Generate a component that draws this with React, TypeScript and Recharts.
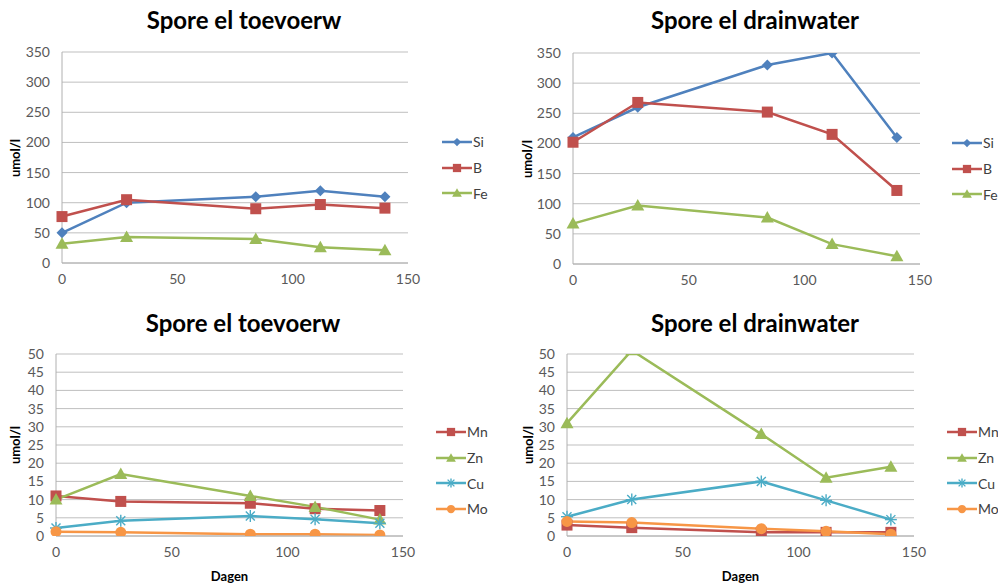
import React from "react"
import { LineChart, Line, XAxis, YAxis, CartesianGrid } from "recharts"

const days = [0, 28, 84, 112, 140]

// top row, macro elements (umol/l)
const toevoerSi = [50, 100, 110, 120, 110]
const toevoerB = [77, 105, 90, 97, 91]
const toevoerFe = [32, 43, 40, 26, 21]
const drainSi = [210, 260, 330, 350, 210]
const drainB = [202, 268, 252, 215, 122]
const drainFe = [67, 97, 77, 33, 13]

// bottom row, trace elements (umol/l)
const toevoerMn = [11, 9.5, 9, 7.5, 7]
const toevoerZn = [10, 17, 11, 8, 4.5]
const toevoerCu = [2.2, 4.2, 5.5, 4.6, 3.5]
const toevoerMo = [1.2, 1.0, 0.5, 0.5, 0.3]
const drainMn = [3, 2.3, 1, 1, 1]
const drainZn = [31, 51, 28, 16, 19]
const drainCu = [5.3, 10, 15, 9.8, 4.5]
const drainMo = [4, 3.7, 2, 1.3, 0.5]

const xTicks = [0, 50, 100, 150]
const yTicksTop = [0, 50, 100, 150, 200, 250, 300, 350]
const yTicksBottom = [0, 5, 10, 15, 20, 25, 30, 35, 40, 45, 50]

const FONT = "Lato, 'Open Sans', sans-serif"
const BLUE = "#4F81BD"
const RED = "#C0504D"
const GREEN = "#9BBB59"
const TEAL = "#4BACC6"
const ORANGE = "#F79646"

type Shape = "diamond" | "square" | "triangle" | "star" | "circle"
type Series = { name: string; color: string; shape: Shape; values: number[] }

function Marker({ cx, cy, shape, color, k = 1 }: { cx: number; cy: number; shape: Shape; color: string; k?: number }) {
  if (cx == null || cy == null) return null
  const r = 5.5 * k
  switch (shape) {
    case "diamond":
      return <path d={`M${cx},${cy - r}L${cx + r},${cy}L${cx},${cy + r}L${cx - r},${cy}Z`} fill={color} />
    case "square":
      return <rect x={cx - r} y={cy - r} width={2 * r} height={2 * r} fill={color} />
    case "triangle":
      return <path d={`M${cx},${cy - 6.5 * k}L${cx + 6.5 * k},${cy + 5 * k}L${cx - 6.5 * k},${cy + 5 * k}Z`} fill={color} />
    case "circle":
      return <circle cx={cx} cy={cy} r={r} fill={color} />
    case "star":
      return (
        <g stroke={color} strokeWidth={1.4}>
          <line x1={cx - 6 * k} y1={cy} x2={cx + 6 * k} y2={cy} />
          <line x1={cx} y1={cy - 6 * k} x2={cx} y2={cy + 6 * k} />
          <line x1={cx - 4.5 * k} y1={cy - 4.5 * k} x2={cx + 4.5 * k} y2={cy + 4.5 * k} />
          <line x1={cx - 4.5 * k} y1={cy + 4.5 * k} x2={cx + 4.5 * k} y2={cy - 4.5 * k} />
        </g>
      )
  }
  return null
}

type PanelProps = {
  left: number
  top: number
  width: number
  height: number
  plot: [number, number, number, number] // x1, x2, y1, y2 in page px
  title: string
  titleX: number
  titleY: number
  series: Series[]
  yMax: number
  yTicks: number[]
  legendLeft: number
  legendTop: number
  yLabelX: number
  showDagen?: boolean
}

function Panel(p: PanelProps) {
  const yAxisW = 40
  const xAxisH = 25
  const [x1, x2, y1, y2] = p.plot
  const margin = {
    left: x1 - p.left - yAxisW,
    right: p.left + p.width - x2,
    top: y1 - p.top,
    bottom: p.top + p.height - y2 - xAxisH,
  }
  const rows = days.map((d, i) => {
    const r: Record<string, number> = { day: d }
    p.series.forEach((s) => (r[s.name] = s.values[i]))
    return r
  })
  const tick = { fontSize: 14, fill: "#595959", fontFamily: FONT }

  return (
    <div style={{ position: "absolute", left: p.left, top: p.top, width: p.width, height: p.height }}>
      <LineChart width={p.width} height={p.height} data={rows} margin={margin} style={{ position: "absolute", left: 0, top: 0 }}>
        <CartesianGrid vertical={false} stroke="#BFBFBF" />
        <XAxis
          type="number"
          dataKey="day"
          domain={[0, 150]}
          ticks={xTicks}
          height={xAxisH}
          tickLine={false}
          stroke="#B0B0B0"
          tick={tick}
          tickMargin={5}
        />
        <YAxis
          type="number"
          domain={[0, p.yMax]}
          ticks={p.yTicks}
          allowDataOverflow
          width={yAxisW}
          tickLine={false}
          stroke="#B0B0B0"
          tick={tick}
          tickMargin={6}
          interval={0}
        />
        {p.series.map((s) => (
          <Line
            key={s.name}
            type="linear"
            dataKey={s.name}
            stroke={s.color}
            strokeWidth={2.5}
            isAnimationActive={false}
            dot={(d: any) => <Marker key={`${s.name}-${d.index}`} cx={d.cx} cy={d.cy} shape={s.shape} color={s.color} />}
            activeDot={false}
          />
        ))}
      </LineChart>
      <div
        style={{
          position: "absolute",
          left: p.titleX - p.left - 150,
          top: p.titleY - p.top - 15,
          width: 300,
          textAlign: "center",
          fontFamily: FONT,
          fontWeight: 700,
          fontSize: 24,
          lineHeight: "30px",
          color: "#000",
        }}
      >
        {p.title}
      </div>
      <div
        style={{
          position: "absolute",
          left: p.yLabelX - p.left - 30,
          top: (y1 + y2) / 2 - p.top - 8,
          width: 60,
          lineHeight: "16px",
          textAlign: "center",
          transform: "rotate(-90deg)",
          fontFamily: FONT,
          fontWeight: 700,
          fontSize: 13,
          color: "#000",
        }}
      >
        umol/l
      </div>
      {p.showDagen && (
        <div
          style={{
            position: "absolute",
            left: (x1 + x2) / 2 - p.left - 50,
            top: p.height - 18,
            width: 100,
            lineHeight: "16px",
            textAlign: "center",
            fontFamily: FONT,
            fontWeight: 700,
            fontSize: 13,
            color: "#000",
          }}
        >
          Dagen
        </div>
      )}
      <div style={{ position: "absolute", left: p.legendLeft - p.left, top: p.legendTop - p.top }}>
        {p.series.map((s) => (
          <div key={s.name} style={{ display: "flex", alignItems: "center", height: 25.7 }}>
            <svg width={30} height={14}>
              <line x1={0} y1={7} x2={30} y2={7} stroke={s.color} strokeWidth={2.5} />
              <Marker cx={15} cy={7} shape={s.shape} color={s.color} k={0.75} />
            </svg>
            <span style={{ fontFamily: FONT, fontSize: 14, color: "#404040", marginLeft: 1 }}>{s.name}</span>
          </div>
        ))}
      </div>
    </div>
  )
}

export default function App() {
  const topToevoer: Series[] = [
    { name: "Si", color: BLUE, shape: "diamond", values: toevoerSi },
    { name: "B", color: RED, shape: "square", values: toevoerB },
    { name: "Fe", color: GREEN, shape: "triangle", values: toevoerFe },
  ]
  const topDrain: Series[] = [
    { name: "Si", color: BLUE, shape: "diamond", values: drainSi },
    { name: "B", color: RED, shape: "square", values: drainB },
    { name: "Fe", color: GREEN, shape: "triangle", values: drainFe },
  ]
  const botToevoer: Series[] = [
    { name: "Mn", color: RED, shape: "square", values: toevoerMn },
    { name: "Zn", color: GREEN, shape: "triangle", values: toevoerZn },
    { name: "Cu", color: TEAL, shape: "star", values: toevoerCu },
    { name: "Mo", color: ORANGE, shape: "circle", values: toevoerMo },
  ]
  const botDrain: Series[] = [
    { name: "Mn", color: RED, shape: "square", values: drainMn },
    { name: "Zn", color: GREEN, shape: "triangle", values: drainZn },
    { name: "Cu", color: TEAL, shape: "star", values: drainCu },
    { name: "Mo", color: ORANGE, shape: "circle", values: drainMo },
  ]

  return (
    <div style={{ position: "absolute", left: 0, top: 0, width: 998, height: 586, background: "#fff", overflow: "hidden" }}>
      <Panel
        left={0} top={0} width={498} height={300}
        plot={[62, 408, 52, 263]}
        title="Spore el toevoerw" titleX={244} titleY={20}
        series={topToevoer}
        yMax={350} yTicks={yTicksTop}
        legendLeft={442} legendTop={129}
        yLabelX={15}
      />
      <Panel
        left={500} top={0} width={498} height={300}
        plot={[573, 920, 53, 264]}
        title="Spore el drainwater" titleX={755} titleY={20}
        series={topDrain}
        yMax={350} yTicks={yTicksTop}
        legendLeft={952} legendTop={130}
        yLabelX={527}
      />
      <Panel
        left={0} top={300} width={498} height={286}
        plot={[56, 403, 354, 536]}
        title="Spore el toevoerw" titleX={243} titleY={323}
        series={botToevoer}
        yMax={50} yTicks={yTicksBottom}
        legendLeft={436} legendTop={419}
        yLabelX={15}
        showDagen
      />
      <Panel
        left={500} top={300} width={498} height={286}
        plot={[567, 914, 354, 536]}
        title="Spore el drainwater" titleX={755} titleY={323}
        series={botDrain}
        yMax={50} yTicks={yTicksBottom}
        legendLeft={947} legendTop={419}
        yLabelX={528}
        showDagen
      />
    </div>
  )
}
